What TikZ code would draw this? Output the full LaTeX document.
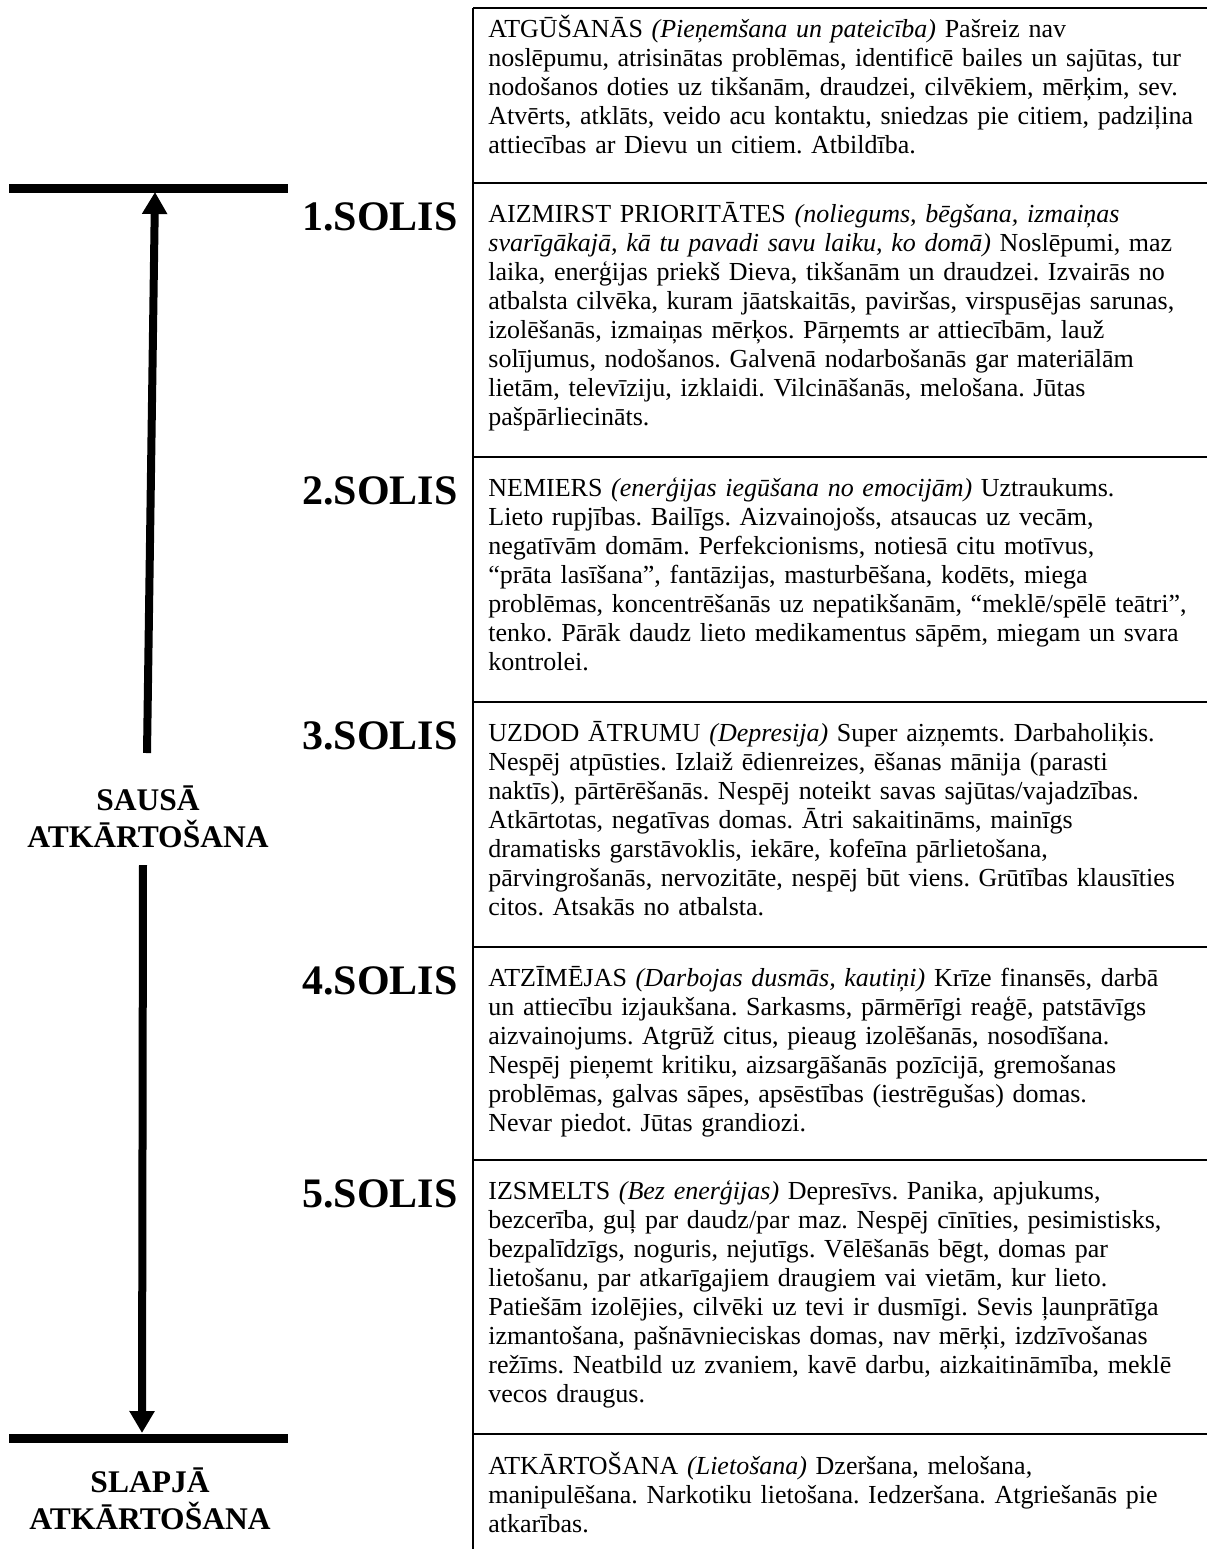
\documentclass[tikz,border=0pt]{standalone}
\usepackage{fontspec}
\setmainfont{Liberation Serif}
\usepackage{tikz}
\usetikzlibrary{arrows.meta}
\frenchspacing

\begin{document}
\begin{tikzpicture}[
        x=0.5pt,
        y=-0.5pt,
        stagetext/.style={
            anchor=north west,
            inner sep=0pt,
            text width=360pt,
            align=left,
            font=\fontsize{13pt}{14.5pt}\selectfont,
            execute at begin node={\rule{0pt}{12pt}}
        },
        steplabel/.style={
            anchor=base west,
            inner sep=0pt,
            font=\fontsize{21pt}{25pt}\selectfont\bfseries
        },
        sidelabel/.style={
            anchor=north,
            inner sep=0pt,
            text width=150pt,
            align=center,
            font=\fontsize{15.75pt}{18.5pt}\selectfont\bfseries,
            execute at begin node={\rule{0pt}{14pt}}
        },
        divider/.style={
            line width=1.3pt,
            draw=black
        },
        bar/.style={
            line width=4.5pt,
            draw=black
        },
        arrow/.style={
            -{Triangle[length=11pt,width=12pt]},
            line width=4pt,
            draw=black
        }
    ]
        \useasboundingbox (0,0) rectangle (1207,1549);

        % Tabula ar posmiem
        \draw [divider] (473,8) -- (473,1549);
        \draw [divider] (473,8) -- (1207,8);
        \draw [divider] (473,183) -- (1207,183);
        \draw [divider] (473,457) -- (1207,457);
        \draw [divider] (473,702) -- (1207,702);
        \draw [divider] (473,947) -- (1207,947);
        \draw [divider] (473,1160) -- (1207,1160);
        \draw [divider] (473,1434) -- (1207,1434);

        \node (atgusanas) [stagetext] at (488,13) {ATGŪŠANĀS \textit{(Pieņemšana un pateicība)} Pašreiz nav\\noslēpumu, atrisinātas problēmas, identificē bailes un sajūtas, tur\\nodošanos doties uz tikšanām, draudzei, cilvēkiem, mērķim, sev.\\Atvērts, atklāts, veido acu kontaktu, sniedzas pie citiem, padziļina\\attiecības ar Dievu un citiem. Atbildība.};
        \node (aizmirst) [stagetext] at (488,198) {AIZMIRST PRIORITĀTES \textit{(noliegums, bēgšana, izmaiņas}\\\textit{svarīgākajā, kā tu pavadi savu laiku, ko domā)} Noslēpumi, maz\\laika, enerģijas priekš Dieva, tikšanām un draudzei. Izvairās no\\atbalsta cilvēka, kuram jāatskaitās, paviršas, virspusējas sarunas,\\izolēšanās, izmaiņas mērķos. Pārņemts ar attiecībām, lauž\\solījumus, nodošanos. Galvenā nodarbošanās gar materiālām\\lietām, televīziju, izklaidi. Vilcināšanās, melošana. Jūtas\\pašpārliecināts.};
        \node (nemiers) [stagetext] at (488,472) {NEMIERS \textit{(enerģijas iegūšana no emocijām)} Uztraukums.\\Lieto rupjības. Bailīgs. Aizvainojošs, atsaucas uz vecām,\\negatīvām domām. Perfekcionisms, notiesā citu motīvus,\\“prāta lasīšana”, fantāzijas, masturbēšana, kodēts, miega\\problēmas, koncentrēšanās uz nepatikšanām, “meklē/spēlē teātri”,\\tenko. Pārāk daudz lieto medikamentus sāpēm, miegam un svara\\kontrolei.};
        \node (uzdod) [stagetext] at (488,717) {UZDOD ĀTRUMU \textit{(Depresija)} Super aizņemts. Darbaholiķis.\\Nespēj atpūsties. Izlaiž ēdienreizes, ēšanas mānija (parasti\\naktīs), pārtērēšanās. Nespēj noteikt savas sajūtas/vajadzības.\\Atkārtotas, negatīvas domas. Ātri sakaitināms, mainīgs\\dramatisks garstāvoklis, iekāre, kofeīna pārlietošana,\\pārvingrošanās, nervozitāte, nespēj būt viens. Grūtības klausīties\\citos. Atsakās no atbalsta.};
        \node (atzimejas) [stagetext] at (488,962) {ATZĪMĒJAS \textit{(Darbojas dusmās, kautiņi)} Krīze finansēs, darbā\\un attiecību izjaukšana. Sarkasms, pārmērīgi reaģē, patstāvīgs\\aizvainojums. Atgrūž citus, pieaug izolēšanās, nosodīšana.\\Nespēj pieņemt kritiku, aizsargāšanās pozīcijā, gremošanas\\problēmas, galvas sāpes, apsēstības (iestrēgušas) domas.\\Nevar piedot. Jūtas grandiozi.};
        \node (izsmelts) [stagetext] at (488,1175) {IZSMELTS \textit{(Bez enerģijas)} Depresīvs. Panika, apjukums,\\bezcerība, guļ par daudz/par maz. Nespēj cīnīties, pesimistisks,\\bezpalīdzīgs, noguris, nejutīgs. Vēlēšanās bēgt, domas par\\lietošanu, par atkarīgajiem draugiem vai vietām, kur lieto.\\Patiešām izolējies, cilvēki uz tevi ir dusmīgi. Sevis ļaunprātīga\\izmantošana, pašnāvnieciskas domas, nav mērķi, izdzīvošanas\\režīms. Neatbild uz zvaniem, kavē darbu, aizkaitināmība, meklē\\vecos draugus.};
        \node (atkartosana) [stagetext] at (488,1450) {ATKĀRTOŠANA \textit{(Lietošana)} Dzeršana, melošana,\\manipulēšana. Narkotiku lietošana. Iedzeršana. Atgriešanās pie\\atkarības.};

        % Soļu numuri
        \node (solis1) [steplabel] at (302,230) {1.SOLIS};
        \node (solis2) [steplabel] at (302,504) {2.SOLIS};
        \node (solis3) [steplabel] at (302,749) {3.SOLIS};
        \node (solis4) [steplabel] at (302,994) {4.SOLIS};
        \node (solis5) [steplabel] at (302,1207) {5.SOLIS};

        % Kreisā puse
        \draw [bar] (9,188) -- (288,188);
        \draw [bar] (9,1438) -- (288,1438);
        \node (sausa) [sidelabel] at (148,782) {SAUSĀ\\ATKĀRTOŠANA};
        \node (slapja) [sidelabel] at (150,1464) {SLAPJĀ\\ATKĀRTOŠANA};

        \coordinate (uptail) at (147,753);
        \coordinate (uptip) at (155,192);
        \coordinate (downtail) at (143,865);
        \coordinate (downtip) at (142,1433);

        % Bultas
        \draw [arrow] (uptail) -- (uptip);
        \draw [arrow] (downtail) -- (downtip);
    \end{tikzpicture}
\end{document}
